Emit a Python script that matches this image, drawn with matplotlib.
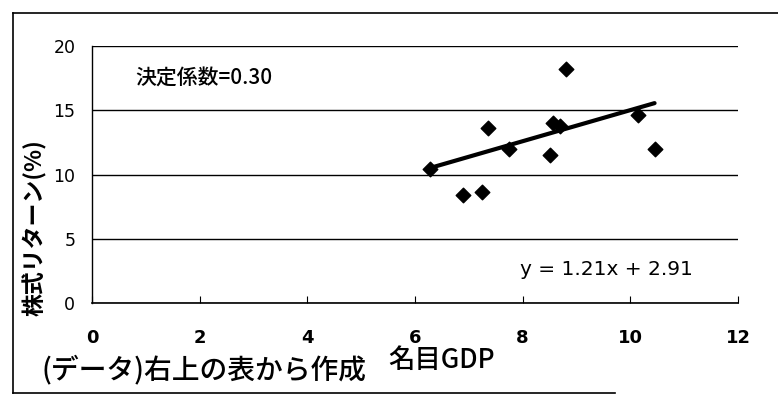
import matplotlib.pyplot as plt
from matplotlib.lines import Line2D

plt.rcParams['font.family'] = ['Noto Sans CJK JP', 'DejaVu Sans']

# nominal GDP growth vs stock return
gdp = [6.27, 6.90, 7.24, 7.35, 7.74, 8.51, 8.56, 8.70, 8.81, 10.15, 10.45]
stock_return = [10.4, 8.4, 8.6, 13.6, 12.0, 11.5, 14.0, 13.8, 18.2, 14.6, 12.0]

slope = 1.21
intercept = 2.91
r2_text = "決定係数=0.30"

x_ticks = [0, 2, 4, 6, 8, 10, 12]
y_ticks = [0, 5, 10, 15, 20]

fig = plt.figure(figsize=(7.78, 4.0), dpi=100)
ax = fig.add_axes([92 / 778, 1 - 303 / 400, (738 - 92) / 778, (303 - 46) / 400])

ax.scatter(gdp, stock_return, marker="D", s=55, color="black", zorder=3)

# trend line
xs = [min(gdp), max(gdp)]
ys = [slope * v + intercept for v in xs]
ax.plot(xs, ys, color="black", linewidth=3, solid_capstyle="round", zorder=4)

ax.set_xlim(0, 12)
ax.set_ylim(0, 20)
ax.set_xticks(x_ticks)
ax.set_yticks(y_ticks)
ax.grid(axis="y", color="black", linewidth=1)
ax.set_axisbelow(True)

for side in ["top", "right"]:
    ax.spines[side].set_visible(False)
ax.spines["left"].set_linewidth(1)
ax.spines["bottom"].set_linewidth(1.2)

ax.tick_params(axis="x", direction="in", length=5, pad=19)
ax.tick_params(axis="y", length=0, pad=12)
for lab in ax.get_xticklabels():
    lab.set_family("DejaVu Sans")
    lab.set_fontsize(13)
    lab.set_fontweight("bold")
for lab in ax.get_yticklabels():
    lab.set_family("DejaVu Sans")
    lab.set_fontsize(12.5)

ax.text(0.80, 17.5, r2_text, fontsize=15, fontweight="medium", va="center", ha="left")
ax.text(7.95, 2.6, f"y = {slope:.2f}x + {intercept:.2f}", family="DejaVu Sans",
        fontsize=14.5, va="center", ha="left")

fig.text(35 / 778, 1 - 228 / 400, "株式リターン(%)", rotation=90, fontsize=16.5,
         fontweight="bold", ha="center", va="center")
fig.text(388 / 778, 1 - 360 / 400, "名目GDP", fontsize=19, fontweight="medium",
         ha="left", va="center")
fig.text(42 / 778, 1 - 369 / 400, "(データ)右上の表から作成", fontsize=20,
         fontweight="medium", ha="left", va="center")

# outer chart frame (left, top, bottom)
fig.add_artist(Line2D([13 / 778, 13 / 778], [1 - 393 / 400, 1 - 13 / 400], color="black", linewidth=1.2))
fig.add_artist(Line2D([13 / 778, 1.0], [1 - 13 / 400, 1 - 13 / 400], color="black", linewidth=1.2))
fig.add_artist(Line2D([13 / 778, 615 / 778], [1 - 393 / 400, 1 - 393 / 400], color="black", linewidth=1.2))

fig.savefig("out.png", dpi=100)
